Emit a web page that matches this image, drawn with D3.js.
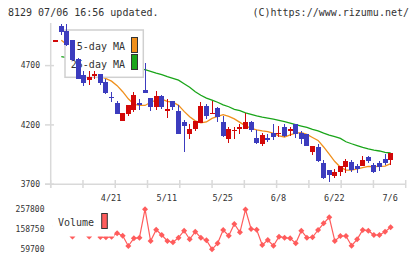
<!DOCTYPE html>
<html>
<head>
<meta charset="utf-8">
<title>8129 chart</title>
<script src="https://d3js.org/d3.v7.min.js"></script>
<style>
  body { margin: 0; background: #fff; }
  svg text { font-family: "DejaVu Sans Mono", monospace; fill: #333; }
</style>
</head>
<body>
<div id="chart"></div>
<script>
// 日足データ (index 0..60)
const open = [4905,5030,4990,4915,4755,4620,4575,4615,4630,4565, 4437,4386,4236,4291,4325,4386,4497,4426,4350,4446,
  4321,4403,4320,4228,4124,4166,4219,4361,4295,4344, 4228,4081,4147,4166,4164,4225,4087,4036,4087,4128,
  4124,4180,4147,4208,4135,4124,3974,4016,3880,3819, 3768,3804,3847,3886,3850,3853,3931,3861,3880,3914,3903];
const high = [4915,5050,5050,4920,4760,4655,4655,4658,4632,4587, 4474,4403,4300,4370,4480,4420,4725,4429,4488,4448,
  4420,4405,4364,4238,4206,4236,4392,4380,4399,4355, 4276,4180,4186,4208,4299,4234,4158,4130,4121,4207,
  4192,4206,4186,4210,4152,4126,4024,4039,3903,3821, 3827,3855,3912,3903,3868,3939,3939,3878,3899,3954,3967];
const low = [4905,4960,4865,4740,4585,4530,4535,4587,4535,4457, 4395,4293,4236,4274,4308,4327,4465,4321,4327,4336,
  4262,4327,4126,3974,4081,4149,4214,4248,4291,4228, 4096,4050,4079,4124,4162,4138,4039,4022,4053,4073,
  4101,4101,4109,4092,4039,4023,3946,3884,3742,3719, 3753,3770,3797,3799,3797,3851,3878,3793,3814,3863,3865];
const close = [4915,4980,4870,4745,4590,4555,4600,4630,4555,4470, 4423,4296,4299,4367,4452,4370,4469,4355,4446,4353,
  4336,4347,4126,4194,4166,4234,4361,4272,4304,4270, 4107,4166,4158,4186,4223,4158,4050,4115,4079,4101,
  4135,4109,4166,4121,4079,4025,4022,3895,3753,3776, 3804,3853,3897,3819,3830,3903,3895,3804,3844,3878,3965];
const ma5 = [null,4914,4878,4836,4785,4725,4683,4641,4611,4590, 4569,4531,4480,4420,4374,4364,4364,4391,4409,4416,
  4399,4391,4365,4314,4268,4234,4217,4225,4255,4272, 4287,4272,4251,4221,4192,4170,4158,4149,4143,4128,
  4107,4098,4115,4130,4135,4120,4094,4069,4014,3954, 3891,3844,3819,3819,3830,3840,3850,3848,3850,3853,3874];
const ma25 = [null,4776,4768,4759,4751,4742,4736,4728,4721,4713, 4706,4698,4692,4683,4676,4671,4666,4651,4636,4624,
  4607,4592,4577,4547,4518,4480,4450,4426,4408,4391, 4369,4353,4331,4320,4302,4289,4276,4265,4257,4248,
  4238,4227,4214,4202,4190,4179,4162,4149,4130,4114, 4101,4086,4058,4041,4026,4011,3998,3988,3980,3969,3963];
const volume = [175000,205000,150000,123000,168000,142000,123000,185000,121000,119000,
  122000,138700,126900,76000,114000,117000,257800,100700,156500,130300,
  100700,94300,117000,151600,109100,146600,117000,104200,59700,89300,
  155000,126900,184700,143700,256000,160000,156500,80900,105600,77500,
  121900,117000,114000,89300,151600,117000,119000,155000,188100,217800,
  100700,125400,125400,77500,109100,155000,151600,130300,130300,146600,168400];

const dateLabels = ["4/21", "5/11", "5/25", "6/8", "6/22", "7/6"];
const dateIndex = [10, 20, 30, 40, 50, 60];
const priceTicks = [3700, 4200, 4700];
const volTicks = [59700, 158750, 257800];

const colUp = "#d20808", colDown = "#3c3cbe";
const colMa5 = "#f0901c", colMa25 = "#1aa51a", colVol = "#ff5c5c", gridCol = "#d9d9d9";

const svg = d3.select("#chart").append("svg").attr("width", 420).attr("height", 259);

const x = d3.scaleLinear().domain([-0.9, 62.7]).range([50.7, 405.7]);
const y = d3.scaleLinear().domain([3700, 4700]).range([184.2, 65.6]);
const yv = d3.scaleLinear().domain([volTicks[0], volTicks[2]]).range([249.3, 209.2]);
const grid = d3.scaleLinear().domain([0, 11]).range([50.7, 405.7]);

// ヘッダー
svg.append("text").attr("x", 8).attr("y", 16).style("font-size", "10px").text("8129 07/06 16:56 updated.");
svg.append("text").attr("x", 409).attr("y", 16).attr("text-anchor", "end").style("font-size", "10px").text("(C)https://www.rizumu.net/");

// 軸
svg.append("line").attr("x1", 50.7).attr("x2", 50.7).attr("y1", 23).attr("y2", 188)
  .attr("stroke", gridCol).attr("stroke-width", 1.5);
svg.append("line").attr("x1", 45).attr("x2", 405.7).attr("y1", y(3700)).attr("y2", y(3700))
  .attr("stroke", gridCol).attr("stroke-width", 1.5);
svg.append("g").selectAll("line").data(d3.range(12)).join("line")
  .attr("x1", d => grid(d)).attr("x2", d => grid(d)).attr("y1", 180).attr("y2", 188)
  .attr("stroke", gridCol).attr("stroke-width", 1.5);
svg.append("g").selectAll("line").data(priceTicks).join("line")
  .attr("x1", 45).attr("x2", 54).attr("y1", d => y(d)).attr("y2", d => y(d))
  .attr("stroke", gridCol).attr("stroke-width", 1.5);
svg.append("g").selectAll("text").data(priceTicks).join("text")
  .attr("x", 40).attr("y", d => y(d)).attr("dy", "0.35em").attr("text-anchor", "end")
  .style("font-size", "8px").text(d => d);

// 移動平均
const idx = d3.range(open.length);
const maLine = arr => d3.line().defined(i => arr[i] != null).x(i => x(i)).y(i => y(arr[i]));
svg.append("path").datum(idx).attr("d", maLine(ma25)).attr("fill", "none").attr("stroke", colMa25).attr("stroke-width", 1.3);
svg.append("path").datum(idx).attr("d", maLine(ma5)).attr("fill", "none").attr("stroke", colMa5).attr("stroke-width", 1.3);

// 凡例
const lg = svg.append("g");
lg.append("rect").attr("x", 65).attr("y", 30).attr("width", 78.3).attr("height", 47.3)
  .attr("fill", "#fff").attr("stroke", "#d0d0d0").attr("stroke-width", 1.5);
lg.append("text").attr("x", 125).attr("y", 49.5).attr("text-anchor", "end").style("font-size", "10px").text("5-day MA");
lg.append("text").attr("x", 125).attr("y", 67.5).attr("text-anchor", "end").style("font-size", "10px").text("25-day MA");
lg.append("rect").attr("x", 131.5).attr("y", 37.5).attr("width", 6).attr("height", 15)
  .attr("fill", colMa5).attr("stroke", "#333").attr("stroke-width", 1);
lg.append("rect").attr("x", 131.5).attr("y", 54.5).attr("width", 6).attr("height", 15)
  .attr("fill", colMa25).attr("stroke", "#333").attr("stroke-width", 1);

// ローソク足
const cg = svg.append("g").attr("shape-rendering", "crispEdges");
const col = i => close[i] >= open[i] ? colUp : colDown;
cg.selectAll("line").data(idx).join("line")
  .attr("x1", i => x(i)).attr("x2", i => x(i))
  .attr("y1", i => y(high[i])).attr("y2", i => y(low[i]))
  .attr("stroke", col).attr("stroke-width", 1);
cg.selectAll("rect").data(idx).join("rect")
  .attr("x", i => x(i) - 2.5).attr("width", 5)
  .attr("y", i => y(Math.max(open[i], close[i])))
  .attr("height", i => Math.max(1.5, Math.abs(y(open[i]) - y(close[i]))))
  .attr("fill", col);

// 日付
svg.append("g").selectAll("text").data(dateIndex).join("text")
  .attr("x", i => x(i) - 0.5).attr("y", 201).attr("text-anchor", "middle")
  .style("font-size", "8.5px").text((d, k) => dateLabels[k]);

// 出来高
svg.append("path").datum(idx)
  .attr("d", d3.line().x(i => x(i)).y(i => yv(volume[i])))
  .attr("fill", "none").attr("stroke", colVol).attr("stroke-width", 1.2);
svg.append("g").selectAll("path").data(idx).join("path")
  .attr("d", d3.symbol().type(d3.symbolSquare).size(18))
  .attr("transform", i => `translate(${x(i)},${yv(volume[i])}) rotate(45)`)
  .attr("fill", colVol);

const vl = svg.append("g");
vl.append("rect").attr("x", 53).attr("y", 203).attr("width", 61).attr("height", 33.5).attr("fill", "#fff");
vl.append("text").attr("x", 58).attr("y", 226).style("font-size", "10px").text("Volume");
vl.append("rect").attr("x", 101.7).attr("y", 213.5).attr("width", 5.6).attr("height", 15)
  .attr("fill", colVol).attr("stroke", "#333").attr("stroke-width", 1);

svg.append("g").selectAll("text").data(volTicks).join("text")
  .attr("x", 44.5).attr("y", d => yv(d)).attr("dy", "0.35em").attr("text-anchor", "end")
  .style("font-size", "8px").text(d => d);
</script>
</body>
</html>
